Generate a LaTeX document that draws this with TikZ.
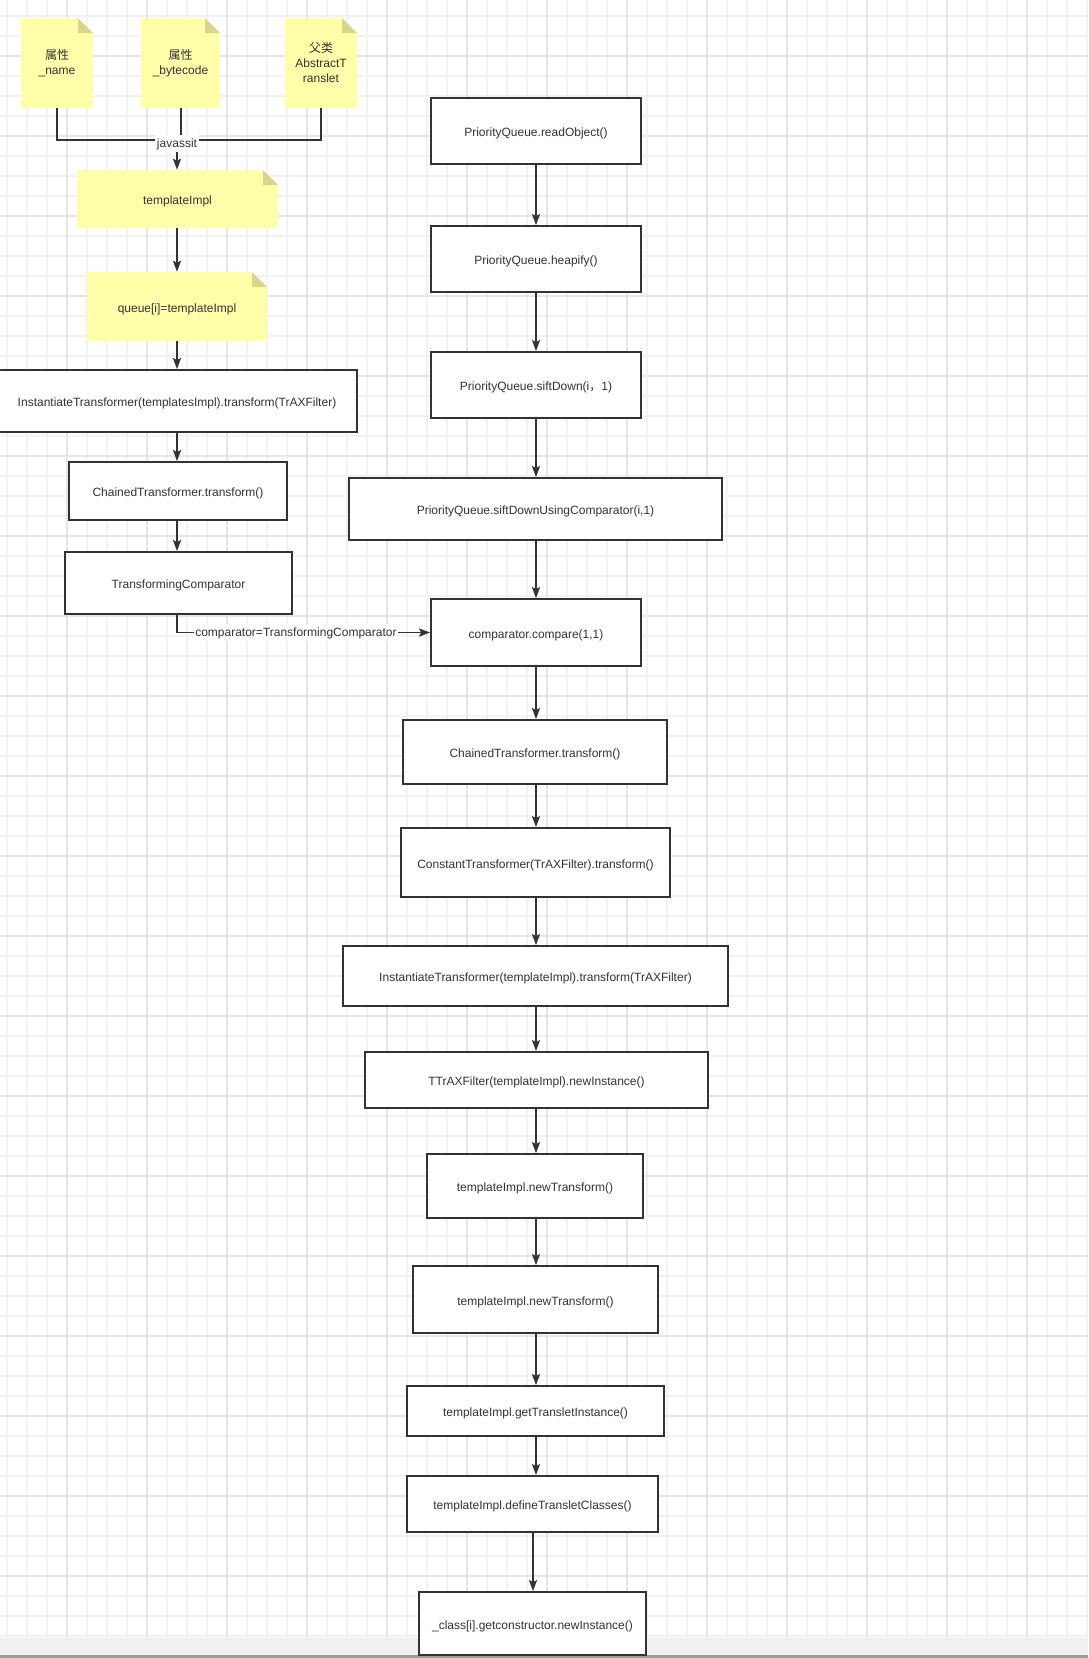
\documentclass[tikz,border=0pt]{standalone}
\usepackage{fontspec}
\newfontfamily\lat{Liberation Sans}
\newfontfamily\cjk{Noto Sans CJK SC}
\usetikzlibrary{arrows.meta}
\definecolor{txt}{HTML}{333333}
\definecolor{edge}{HTML}{333333}
\definecolor{notefill}{HTML}{FFFFAA}
\definecolor{notefold}{HTML}{D6D68C}
\definecolor{gridminor}{HTML}{F2F2F2}
\definecolor{gridmajor}{HTML}{E7E7E7}
\definecolor{bandlight}{HTML}{F0F0F0}
\definecolor{banddark}{HTML}{9A9A9A}
\newcommand\foldsz{15pt}
\tikzset{
  minorline/.style={draw=gridminor, line width=1.4pt},
  majorline/.style={draw=gridmajor, line width=1.6pt},
  box/.style={draw=edge, fill=white, line width=1.8pt, inner sep=0pt, align=center,
    font=\lat\fontsize{12}{15}\selectfont, text=txt,
    execute at begin node={\rule{0pt}{13.5pt}}},
  note/.style={inner sep=0pt, align=center, font=\lat\fontsize{12}{15}\selectfont, text=txt,
    execute at begin node={\rule{0pt}{14pt}},
    path picture={
      \fill[notefill] (path picture bounding box.south west) -- (path picture bounding box.north west)
        -- ([xshift=-\foldsz]path picture bounding box.north east)
        -- ([yshift=-\foldsz]path picture bounding box.north east)
        -- (path picture bounding box.south east) -- cycle;
      \fill[notefold] ([xshift=-\foldsz]path picture bounding box.north east)
        -- ([xshift=-\foldsz,yshift=-\foldsz]path picture bounding box.north east)
        -- ([yshift=-\foldsz]path picture bounding box.north east) -- cycle;}},
  conn/.style={draw=edge, line width=1.8pt},
  arr/.style={conn, -{Stealth[length=11pt,width=8pt,inset=2pt]}},
  lbl/.style={fill=white, inner sep=1.5pt, font=\lat\fontsize{12}{14}\selectfont, text=txt,
    execute at begin node={\rule{0pt}{11pt}}}
}
\begin{document}
\begin{tikzpicture}[x=1pt,y=-1pt]
\useasboundingbox (0,0) rectangle (1088,1658);
\fill[white] (0,0) rectangle (1088,1658);
% grid
\foreach \x in {7,27,...,1087} \draw[minorline] (\x,0) -- (\x,1638);
\foreach \y in {16,36,...,1636} \draw[minorline] (0,\y) -- (1088,\y);
\foreach \x in {67,147,...,1027} \draw[majorline] (\x,0) -- (\x,1638);
\foreach \y in {56,136,...,1576} \draw[majorline] (0,\y) -- (1088,\y);
\fill[bandlight] (0,1638) rectangle (1088,1655);
\fill[banddark] (0,1655) rectangle (1088,1658);

% column axes
\coordinate (lx) at (177,0);
\coordinate (bx) at (181,0);
\coordinate (cx) at (536,0);
\coordinate (cx2) at (533,0);

% left column notes
\node[note, minimum width=72pt, minimum height=90pt] (name) at (57,63) {{\cjk 属性}\\\_name};
\node[note, minimum width=79pt, minimum height=90pt] (byte) at (180.5,63) {{\cjk 属性}\\\_bytecode};
\node[note, minimum width=72pt, minimum height=90pt] (abs) at (321,63) {{\cjk 父类}\\AbstractT\\ranslet};
\node[note, minimum width=201pt, minimum height=58pt] (tmpl) at (177.5,199) {templateImpl};
\node[note, minimum width=180pt, minimum height=69pt] (queue) at (177,306.5) {queue[i]=templateImpl};

% left column boxes
\node[box, minimum width=360pt, minimum height=62pt] (itl) at (177,401) {InstantiateTransformer(templatesImpl).transform(TrAXFilter)};
\node[box, minimum width=218pt, minimum height=58pt] (ctl) at (178,491) {ChainedTransformer.transform()};
\node[box, minimum width=227pt, minimum height=62pt] (tc) at (178.5,583) {TransformingComparator};

% right column
\node[box, minimum width=210pt, minimum height=66pt] (r1) at (536,131) {PriorityQueue.readObject()};
\node[box, minimum width=210pt, minimum height=66pt] (r2) at (536,259) {PriorityQueue.heapify()};
\node[box, minimum width=210pt, minimum height=66pt] (r3) at (536,385) {PriorityQueue.siftDown(i{\cjk ，}1)};
\node[box, minimum width=373pt, minimum height=62pt] (r4) at (535.5,509) {PriorityQueue.siftDownUsingComparator(i,1)};
\node[box, minimum width=210pt, minimum height=67pt] (r5) at (536,632.5) {comparator.compare(1,1)};
\node[box, minimum width=264pt, minimum height=64pt] (r6) at (535,752) {ChainedTransformer.transform()};
\node[box, minimum width=269pt, minimum height=69pt] (r7) at (535.5,862.5) {ConstantTransformer(TrAXFilter).transform()};
\node[box, minimum width=385pt, minimum height=60pt] (r8) at (535.5,976) {InstantiateTransformer(templateImpl).transform(TrAXFilter)};
\node[box, minimum width=343pt, minimum height=56pt] (r9) at (536.5,1080) {TTrAXFilter(templateImpl).newInstance()};
\node[box, minimum width=216pt, minimum height=64pt] (r10) at (535,1186) {templateImpl.newTransform()};
\node[box, minimum width=245pt, minimum height=67pt] (r11) at (535.5,1299.5) {templateImpl.newTransform()};
\node[box, minimum width=257pt, minimum height=50pt] (r12) at (535.5,1411) {templateImpl.getTransletInstance()};
\node[box, minimum width=251pt, minimum height=56pt] (r13) at (532.5,1504) {templateImpl.defineTransletClasses()};
\node[box, minimum width=227pt, minimum height=63pt] (r14) at (532.5,1623.5) {\_class[i].getconstructor.newInstance()};

% javassit merge
\coordinate (jn) at (177,140);
\draw[conn] (name.south) |- (jn);
\draw[conn] (abs.south) |- (jn);
\draw[conn] (byte.south -| bx) -- (jn -| bx);
\draw[arr] (jn) -- node[lbl, pos=0.12] {javassit} (jn |- tmpl.north);

% left arrows
\draw[arr] (tmpl.south -| lx) -- (queue.north -| lx);
\draw[arr] (queue.south -| lx) -- (itl.north -| lx);
\draw[arr] (itl.south -| lx) -- (ctl.north -| lx);
\draw[arr] (ctl.south -| lx) -- (tc.north -| lx);
\draw[arr] (tc.south -| lx) |- node[lbl, pos=0.735] {comparator=TransformingComparator} (r5.west);

% right arrows
\foreach \a/\b in {r1/r2,r2/r3,r3/r4,r4/r5,r5/r6,r6/r7,r7/r8,r8/r9,r9/r10,r10/r11,r11/r12,r12/r13}
  \draw[arr] (\a.south -| cx) -- (\b.north -| cx);
\draw[arr] (r13.south -| cx2) -- (r14.north -| cx2);
\end{tikzpicture}
\end{document}
